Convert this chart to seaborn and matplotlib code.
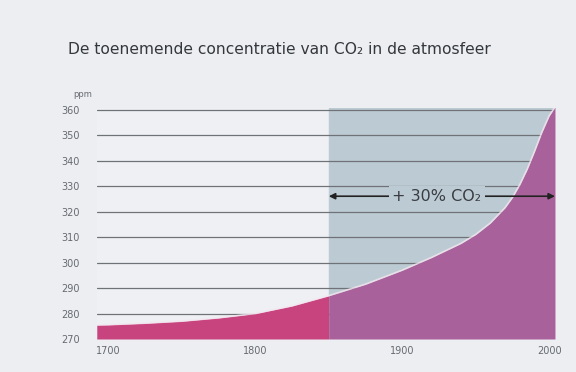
import numpy as np
import pandas as pd
import matplotlib
matplotlib.use("Agg")
import matplotlib.pyplot as plt
import seaborn as sns

# Data
years = [1692, 1700, 1725, 1750, 1775, 1800, 1825, 1850, 1875, 1900, 1920, 1940,
         1950, 1960, 1970, 1975, 1980, 1985, 1990, 1995, 2000, 2004]
ppm = [275.5, 275.6, 276.2, 277.0, 278.3, 280.0, 283.0, 287.0, 291.5, 297.0, 302.0, 307.5,
       311.0, 315.5, 321.5, 325.5, 330.5, 336.5, 343.5, 351.0, 357.5, 361.0]
x_ticks = [1700, 1800, 1900, 2000]
y_ticks = [270, 280, 290, 300, 310, 320, 330, 340, 350, 360]
shade_start = 1850
title = "De toenemende concentratie van CO\u2082 in de atmosfeer"
annotation = "+ 30% CO\u2082"

df = pd.DataFrame({"year": years, "ppm": ppm})

sns.set_theme(style="white")
plt.rcParams['font.family'] = ['DejaVu Sans']

bg = "#eceef2"
fig = plt.figure(figsize=(5.76, 3.72), dpi=100, facecolor=bg)
ax = fig.add_axes([0.168, 0.0887, 0.7955, 0.621])
ax.set_facecolor("#eef0f4")

xmin, xmax = 1692, 2004
ax.set_xlim(xmin, xmax)
ax.set_ylim(270, 360.6)

# shaded period
ax.axvspan(shade_start, xmax, color="#bccbd3", zorder=0)

# grid lines
for v in y_ticks:
    ax.axhline(v, color="#6f7377", lw=0.9, zorder=1)

left = df[df["year"] <= shade_start]
right = df[df["year"] >= shade_start]
ax.fill_between(left["year"], 270, left["ppm"], color="#c8447f", lw=0, zorder=2)
ax.fill_between(right["year"], 270, right["ppm"], color="#a9619b", lw=0, zorder=2)
sns.lineplot(data=df, x="year", y="ppm", ax=ax, color="#f4e6ef", lw=1.2, zorder=3, alpha=0.8)

# arrow annotation
ax.annotate("", xy=(shade_start, 326), xytext=(xmax, 326),
            arrowprops=dict(arrowstyle="<|-|>", color="#222222", lw=1.2,
                            mutation_scale=9, shrinkA=0, shrinkB=0), zorder=5)
ax.text(1923.6, 326, annotation, ha="center", va="center", fontsize=11.5,
        color="#3a3d42", zorder=6,
        bbox=dict(boxstyle="square,pad=0.2", fc="#bccbd3", ec="none"))

ax.set_xticks(x_ticks)
ax.set_xticklabels([str(t) for t in x_ticks], fontsize=7, color="#666a70")
ax.set_yticks(y_ticks)
ax.set_yticklabels([str(t) for t in y_ticks], fontsize=7, color="#666a70")
ax.tick_params(axis="y", length=0, pad=12)
ax.tick_params(axis="x", length=0, pad=5)
for s in ax.spines.values():
    s.set_visible(False)
ax.set_xlabel("")
ax.set_ylabel("")

fig.text(0.127, 0.747, "ppm", fontsize=6, color="#666a70", ha="left", va="center")
fig.text(0.118, 0.866, title, fontsize=11.2, color="#34373c", ha="left", va="center")

fig.savefig("out.png", dpi=100, facecolor=bg)
